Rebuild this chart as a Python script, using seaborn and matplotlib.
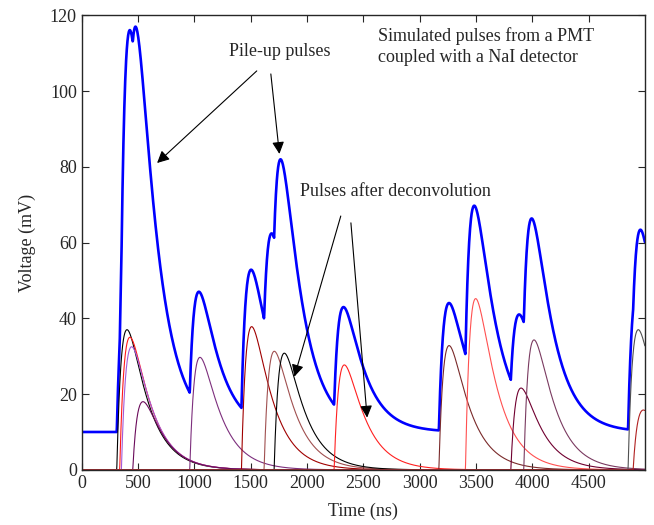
import numpy as np
import pandas as pd
import matplotlib
matplotlib.use("Agg")
import matplotlib.pyplot as plt
import seaborn as sns

# Datos: inicio de cada pulso (ns), altura de pico (mV), color
inicio_pulsos = [311, 337, 352, 453, 959, 1418, 1619, 1708, 2241, 3171, 3407, 3810, 3925, 4851, 4896]
altura_pulsos = [37.0, 35.0, 32.5, 18.0, 29.7, 37.8, 31.3, 30.8, 27.7, 32.8, 45.2, 21.6, 34.3, 37.0, 15.8]
color_pulsos = ['#000000', '#ff1a1a', '#a45ad8', '#6a0a5a', '#7d2f7d', '#a00000', '#a05050',
                '#000000', '#ff2020', '#7a2a2a', '#ff5050', '#700030', '#7a3a60', '#505050', '#b02020']

LINEA_BASE = 10.0      # mV, nivel del pulso apilado
GANANCIA = 1.03        # escala del pulso apilado frente a los deconvolucionados
TAU_SUBIDA = 52.0      # ns
TAU_BAJADA = 180.0     # ns

x_ticks = [0, 500, 1000, 1500, 2000, 2500, 3000, 3500, 4000, 4500]
y_ticks = [0, 20, 40, 60, 80, 100, 120]


def forma_pulso(t, t0, amp):
    dt = np.clip(t - t0, 0, None)
    f = np.exp(-dt / TAU_BAJADA) - np.exp(-dt / TAU_SUBIDA)
    t_pico = np.log(TAU_BAJADA / TAU_SUBIDA) * TAU_BAJADA * TAU_SUBIDA / (TAU_BAJADA - TAU_SUBIDA)
    norm = np.exp(-t_pico / TAU_BAJADA) - np.exp(-t_pico / TAU_SUBIDA)
    return amp * f / norm


t = np.arange(0, 5001, 2.0)
pulsos = [forma_pulso(t, t0, a) for t0, a in zip(inicio_pulsos, altura_pulsos)]
apilado = LINEA_BASE + GANANCIA * np.sum(pulsos, axis=0)

sns.set_style("ticks")
plt.rcParams['font.family'] = ['Liberation Serif', 'DejaVu Serif']

fig = plt.figure(figsize=(6.54, 5.25), dpi=100)
ax = fig.add_axes([0.125, 0.105, 0.861, 0.866])

df_apilado = pd.DataFrame({'t': t, 'v': apilado})
sns.lineplot(data=df_apilado, x='t', y='v', color='#0000ff', lw=1.9, ax=ax)
for p, c in zip(pulsos, color_pulsos):
    sns.lineplot(x=t, y=p, color=c, lw=0.8, ax=ax)

ax.set_xlim(0, 5000)
ax.set_ylim(0, 120)
ax.set_xticks(x_ticks)
ax.set_yticks(y_ticks)
ax.tick_params(direction='in', top=True, right=True, length=5, width=0.8, labelsize=13)
for s in ax.spines.values():
    s.set_linewidth(1.0)
ax.set_xlabel('Time (ns)', fontsize=13, labelpad=8)
ax.set_ylabel('Voltage (mV)', fontsize=13, labelpad=10)

flecha = dict(arrowstyle='-|>', color='k', lw=0.8, mutation_scale=18, shrinkA=0, shrinkB=0)

ax.text(1762, 110.3, 'Pile-up pulses', fontsize=13, ha='center', va='center')
ax.annotate('', xy=(669, 81.0), xytext=(1554, 105.3), arrowprops=flecha)
ax.annotate('', xy=(1755, 83.4), xytext=(1679, 104.5), arrowprops=flecha)

ax.text(1940, 73.4, 'Pulses after deconvolution', fontsize=13, ha='left', va='center')
ax.annotate('', xy=(1888, 24.6), xytext=(2300, 67.0), arrowprops=flecha)
ax.annotate('', xy=(2534, 13.8), xytext=(2390, 65.2), arrowprops=flecha)

ax.text(2632, 116.8, 'Simulated pulses from a PMT\ncoupled with a NaI detector',
        fontsize=13, ha='left', va='top', linespacing=1.3)

fig.savefig('out.png', dpi=100)
